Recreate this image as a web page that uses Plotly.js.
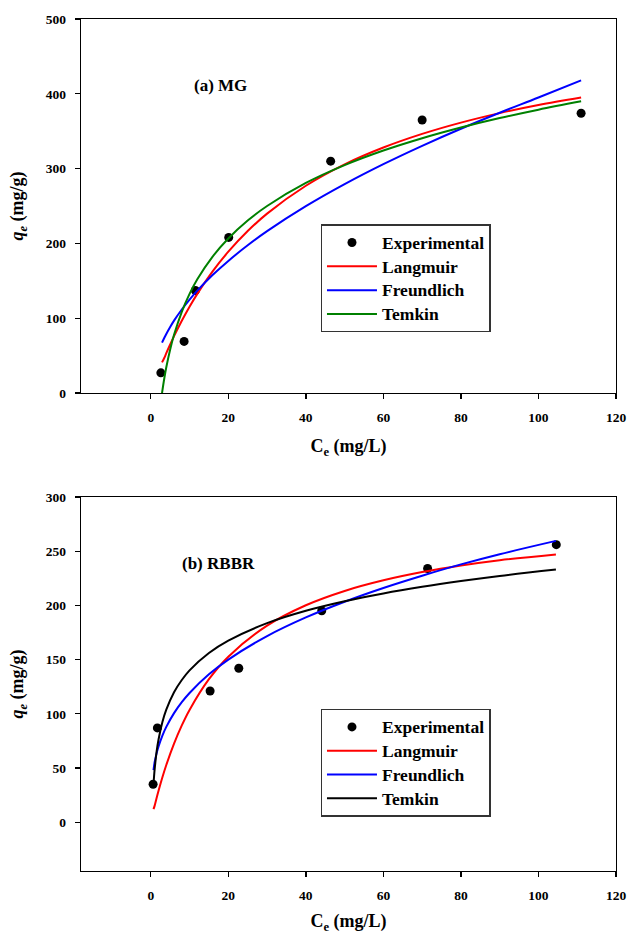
<!DOCTYPE html>
<html><head><meta charset="utf-8">
<script src="https://cdn.plot.ly/plotly-3.0.1.min.js"></script>
<style>html,body{margin:0;padding:0;background:#fff}</style>
</head><body>
<div id="chart" style="width:628px;height:934px"></div>
<script>
// ---------- Panel (a) MG ----------
const mgExpCe = [2.6, 8.6, 11.5, 20.1, 46.4, 70.0, 111.0];
const mgExpQe = [27, 69, 137, 208, 310, 365, 374];
const mgFitCe = [2.9, 3.5, 4, 5, 6, 8, 10, 12, 16, 20, 25, 30, 40, 50, 60, 70, 80, 90, 100, 111];
const mgLangmuir = [41, 47.2, 53.3, 64.9, 76.0, 96.6, 115.4, 132.6, 163.0, 188.9, 216.5, 239.8, 277.1, 305.7, 328.2, 346.4, 361.5, 374.2, 385.0, 395.1];
const mgFreundlich = [67.3, 73.9, 79.0, 88.3, 96.8, 111.7, 124.9, 136.8, 158.0, 176.6, 197.5, 216.4, 249.8, 279.3, 306.0, 330.5, 353.3, 374.7, 395.0, 418.0];
const mgTemkin = [0, 20.1, 34.4, 58.3, 77.8, 108.6, 132.5, 152.0, 182.7, 206.6, 230.5, 250.0, 280.8, 304.7, 324.2, 340.7, 355.0, 367.6, 378.8, 390.0];

// ---------- Panel (b) RBBR ----------
const rbExpCe = [0.6, 1.7, 15.3, 22.7, 44.1, 71.4, 104.6];
const rbExpQe = [35, 87, 121, 142, 195, 234, 256];
const rbFitCe = [0.7, 1, 1.5, 2, 3, 4, 6, 8, 10, 15, 20, 30, 40, 50, 60, 70, 80, 90, 104.5];
const rbLangmuir = [12, 15.3, 22.3, 29.0, 41.5, 52.8, 72.5, 89.3, 103.6, 131.9, 152.7, 181.3, 200.1, 213.3, 223.1, 230.7, 236.8, 241.7, 247.0];
const rbFreundlich = [48, 55.5, 63.5, 69.9, 79.9, 87.9, 100.6, 110.7, 119.2, 136.4, 150.0, 171.7, 188.9, 203.4, 216.1, 227.4, 237.8, 247.2, 259.5];
const rbTemkin = [35, 48.9, 65.0, 76.3, 92.4, 103.8, 119.9, 131.2, 140.1, 156.1, 167.5, 183.6, 195.0, 203.8, 211.0, 217.1, 222.4, 227.1, 233.0];

const seriesNames = ['Experimental', 'Langmuir', 'Freundlich', 'Temkin'];
const panelLabels = ['<b>(a) MG</b>', '<b>(b) RBBR</b>'];
const xTitle = '<b>C<sub>e</sub> (mg/L)</b>';
const yTitle = '<b><i>q<sub>e</sub></i> (mg/g)</b>';

const FONT = '"Liberation Serif", serif';
const lw = 2;

function legendName(s) {
  return '<span style="font-size:17.5px"><b>' + s + '</b></span>';
}
function expTrace(x, y, xa, ya, lg) {
  return {x: x, y: y, xaxis: xa, yaxis: ya, legend: lg, name: legendName(seriesNames[0]), type: 'scatter', mode: 'markers',
    marker: {color: '#000', size: 9, symbol: 'circle'}};
}
function fitTrace(x, y, name, color, xa, ya, lg) {
  return {x: x, y: y, xaxis: xa, yaxis: ya, legend: lg, name: legendName(name), type: 'scatter', mode: 'lines',
    line: {color: color, width: lw, shape: 'spline', smoothing: 1}};
}

const data = [
  expTrace(mgExpCe, mgExpQe, 'x', 'y', 'legend'),
  fitTrace(mgFitCe, mgLangmuir, seriesNames[1], '#ff0000', 'x', 'y', 'legend'),
  fitTrace(mgFitCe, mgFreundlich, seriesNames[2], '#0000ff', 'x', 'y', 'legend'),
  fitTrace(mgFitCe, mgTemkin, seriesNames[3], '#008000', 'x', 'y', 'legend'),
  expTrace(rbExpCe, rbExpQe, 'x2', 'y2', 'legend2'),
  fitTrace(rbFitCe, rbLangmuir, seriesNames[1], '#ff0000', 'x2', 'y2', 'legend2'),
  fitTrace(rbFitCe, rbFreundlich, seriesNames[2], '#0000ff', 'x2', 'y2', 'legend2'),
  fitTrace(rbFitCe, rbTemkin, seriesNames[3], '#000000', 'x2', 'y2', 'legend2')
];

const tickFont = {family: FONT, size: 13.5, color: '#000', weight: 'bold'};
const titleFont = {family: FONT, size: 18, color: '#000'};

function xAxis(anchor) {
  return {anchor: anchor, domain: [0, 1], range: [-18, 120], tickvals: [0, 20, 40, 60, 80, 100, 120],
    showgrid: false, zeroline: false, showline: true, linecolor: '#000', linewidth: 1.3, mirror: true,
    ticks: 'outside', ticklen: 5, tickwidth: 1.3, tickcolor: '#000', tickfont: tickFont, ticklabelstandoff: 6,
    title: {text: xTitle, font: titleFont, standoff: 16}};
}
function yAxis(anchor, domain, range, dtick, top) {
  const vals = [];
  for (let v = 0; v <= top; v += dtick) vals.push(v);
  return {anchor: anchor, domain: domain, range: range, tickvals: vals,
    showgrid: false, zeroline: false, showline: true, linecolor: '#000', linewidth: 1.3, mirror: true,
    ticks: 'outside', ticklen: 5, tickwidth: 1.3, tickcolor: '#000', tickfont: tickFont, ticklabelstandoff: 6,
    title: {text: yTitle, font: titleFont, standoff: 17}};
}

const legendBase = {xref: 'paper', yref: 'paper', x: 0.448, xanchor: 'left', yanchor: 'top',
  bgcolor: '#fff', bordercolor: '#333', borderwidth: 1.3, itemwidth: 50,
  font: {family: FONT, size: 16, color: '#000'}, traceorder: 'normal'};

const layout = {
  width: 628, height: 934,
  margin: {l: 81, r: 12, t: 19, b: 63},
  paper_bgcolor: '#fff', plot_bgcolor: '#fff',
  showlegend: true,
  xaxis: xAxis('y'),
  yaxis: yAxis('x', [0.561, 1], [0, 500], 100, 500),
  xaxis2: xAxis('y2'),
  yaxis2: yAxis('x2', [0, 0.439], [-45, 300], 50, 300),
  legend: Object.assign({}, legendBase, {y: 0.759}),
  legend2: Object.assign({}, legendBase, {y: 0.1905}),
  annotations: [
    {text: panelLabels[0], xref: 'x', yref: 'y', x: 18.1, y: 411, showarrow: false,
      font: {family: FONT, size: 17, color: '#000'}},
    {text: panelLabels[1], xref: 'x2', yref: 'y2', x: 17.5, y: 239, showarrow: false,
      font: {family: FONT, size: 17, color: '#000'}}
  ]
};

Plotly.newPlot('chart', data, layout, {displayModeBar: false, staticPlot: true});
</script>
</body></html>
